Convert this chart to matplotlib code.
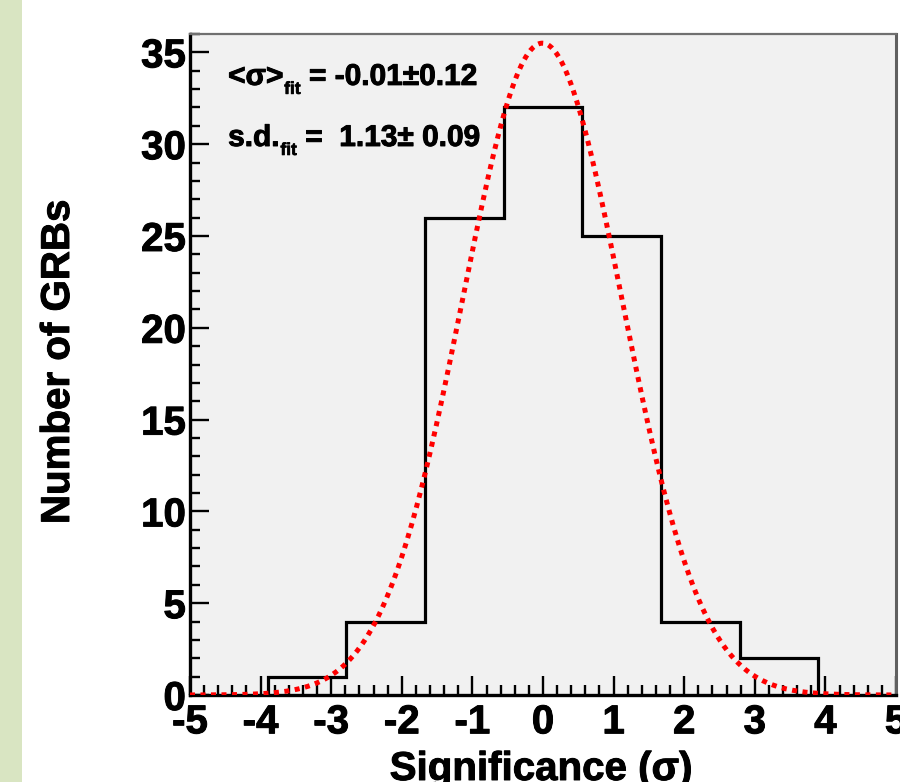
import numpy as np
import matplotlib
matplotlib.use("Agg")
import matplotlib.pyplot as plt
import matplotlib.patheffects as pe
from matplotlib.patches import Rectangle
from matplotlib.ticker import MultipleLocator

# ---- data ----
bin_edges = [-3.9, -2.786, -1.671, -0.557, 0.557, 1.671, 2.786, 3.9]
counts = [1, 4, 26, 32, 25, 4, 2]
fit_mean = -0.01
fit_sd = 1.13
fit_amp = 35.5
xticks = [-5, -4, -3, -2, -1, 0, 1, 2, 3, 4, 5]
yticks = [0, 5, 10, 15, 20, 25, 30, 35]
line1_main = "<σ>"
line1_val = " = -0.01±0.12"
line2_main = "s.d."
line2_val = " =  1.13± 0.09"
sub_label = "fit"

FONT = "Liberation Sans"
plt.rcParams['font.family'] = [FONT, 'DejaVu Sans']
plt.rcParams['font.weight'] = 'bold'

heavy = [pe.withStroke(linewidth=0.7, foreground='black')]

fig = plt.figure(figsize=(9, 7.82), dpi=100)
fig.patches.append(Rectangle((0, 0), 22 / 900, 1, transform=fig.transFigure,
                             facecolor='#d9e5c2', edgecolor='none', zorder=0))

ax = fig.add_axes([190 / 900, 1 - 695 / 782, 706 / 900, 661 / 782])
ax.set_facecolor('#f1f1f1')
ax.set_xlim(-5, 5)
ax.set_ylim(0, 36)

# histogram
ax.stairs(counts, bin_edges, color='black', linewidth=2.3, zorder=3)

# gaussian fit curve
xs = np.linspace(-5, 5, 600)
ys = fit_amp * np.exp(-0.5 * ((xs - fit_mean) / fit_sd) ** 2)
ax.plot(xs, ys, color='#ff0000', linewidth=3.6, linestyle=(0, (1, 1.1)),
        zorder=4, solid_capstyle='butt', dash_capstyle='butt')

# spines
for s in ['left', 'bottom']:
    ax.spines[s].set_linewidth(2.4)
    ax.spines[s].set_color('black')
ax.spines['top'].set_linewidth(1.6)
ax.spines['top'].set_color('#707070')
ax.spines['right'].set_linewidth(2.2)
ax.spines['right'].set_color('#606060')

ax.set_xticks(xticks)
ax.set_xticklabels([str(v) for v in xticks])
ax.set_yticks(yticks)
ax.set_yticklabels([str(v) for v in yticks])
ax.xaxis.set_minor_locator(MultipleLocator(0.2))
ax.yaxis.set_minor_locator(MultipleLocator(1))
ax.tick_params(axis='both', which='major', direction='in', length=14, width=1.7,
               labelsize=29, top=False, right=False)
ax.tick_params(axis='both', which='minor', direction='in', length=7.2, width=1.7,
               top=False, right=False)
ax.tick_params(axis='x', which='major', pad=6)
ax.tick_params(axis='y', which='major', pad=3)
for lab in ax.get_xticklabels() + ax.get_yticklabels():
    lab.set_fontweight('bold')
    lab.set_path_effects(heavy)

# axis labels
fig.text(541 / 900, 1 - 780 / 782, "Significance (σ)", ha='center', va='baseline',
         fontsize=29, fontweight='bold', path_effects=heavy)
fig.text(58 / 900, 1 - 362 / 782, "Number of GRBs", ha='center', va='center',
         rotation=90, fontsize=29, fontweight='bold', path_effects=heavy)

# annotations
def fit_line(main, val, y):
    t1 = ax.text(0.054, y, main, transform=ax.transAxes, ha='left', va='baseline',
                 fontsize=21.5, fontweight='bold', zorder=5, path_effects=heavy)
    t2 = ax.annotate(sub_label, xy=(1, 0), xycoords=t1, xytext=(0.5, -4.3),
                     textcoords='offset points', ha='left', va='bottom',
                     fontsize=12.5, fontweight='bold', zorder=5,
                     path_effects=[pe.withStroke(linewidth=0.5, foreground='black')])
    ax.annotate(val, xy=(1, 0), xycoords=(t2, t1), xytext=(0, 0),
                textcoords='offset points', ha='left', va='bottom',
                fontsize=21.5, fontweight='bold', zorder=5, path_effects=heavy)

fit_line(line1_main, line1_val, 0.923)
fit_line(line2_main, line2_val, 0.8306)

fig.savefig("out.png", dpi=100)
